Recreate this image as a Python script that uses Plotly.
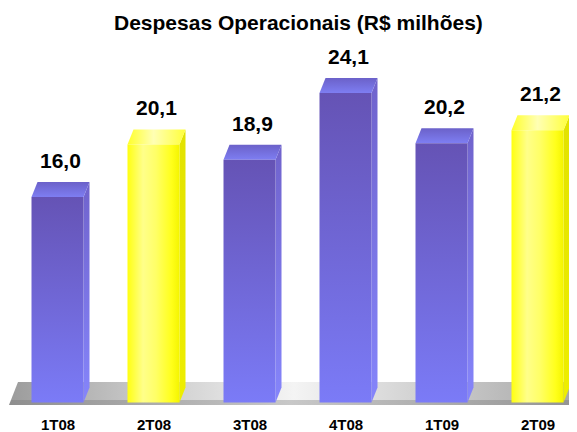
import plotly.graph_objects as go

# ---- data ----
categories = ["1T08", "2T08", "3T08", "4T08", "1T09", "2T09"]
values = [16.0, 20.1, 18.9, 24.1, 20.2, 21.2]
value_labels = ["16,0", "20,1", "18,9", "24,1", "20,2", "21,2"]
bar_styles = ["purple", "yellow", "purple", "purple", "purple", "yellow"]
title_text = "Despesas Operacionais (R$ milhões)"

# ---- geometry ----
# The page body has an 8px default margin, so the figure is drawn 8px smaller
# and all page-pixel targets are shifted by that offset.
OFF = 8
W, H = 577 - OFF, 432 - OFF
X0PX, DXPX = 57.5 - OFF, 96.0      # pixel of category 0, pixels per category
Y0PX, DYPX = 402.5 - OFF, 12.84    # pixel of value 0, pixels per unit
xr = [(0 - X0PX) / DXPX, (W - X0PX) / DXPX]
yr = [(Y0PX - H) / DYPX, Y0PX / DYPX]

bw = 52 / DXPX   # bar width
ox = 6 / DXPX    # depth offset x
oy = 15 / DYPX   # depth offset y

FONT = "Arial, Liberation Sans, sans-serif"

STYLES = {
    "purple": {
        "front": dict(type="vertical", colorscale=[[0, "#7b7bf7"], [1, "#6553b5"]]),
        "side": dict(type="vertical", colorscale=[[0, "#8585fb"], [1, "#7063cc"]]),
        "top": dict(type="vertical", colorscale=[[0, "#7e7ef2"], [1, "#6b61c9"]]),
    },
    "yellow": {
        "front": dict(type="horizontal", colorscale=[[0, "#ffff10"], [0.3, "#ffff8a"],
                                                     [0.55, "#ffff66"], [0.85, "#ffff1a"],
                                                     [1, "#f4f400"]]),
        "side": dict(type="vertical", colorscale=[[0, "#eeee00"], [1, "#e2e200"]]),
        "top": dict(type="horizontal", colorscale=[[0, "#ffff2a"], [0.45, "#ffffb4"],
                                                   [1, "#ffff3a"]]),
    },
}

fig = go.Figure()


def poly(xs, ys, grad):
    fig.add_trace(go.Scatter(
        x=xs + [xs[0]], y=ys + [ys[0]], mode="lines", fill="toself",
        fillgradient=grad, line=dict(width=0), hoverinfo="skip", showlegend=False))


def px_x(p):
    return (p - OFF - X0PX) / DXPX


def px_y(p):
    return (Y0PX - (p - OFF)) / DYPX


# ---- floor ----
fl_left_front = px_x(9)
fl_left_back = px_x(18)
fl_right = xr[1] + 0.2
y_fb = px_y(405)
y_ft = px_y(400)
y_bk = px_y(382)
slope = (fl_left_back - fl_left_front) / (y_bk - y_fb)
poly([fl_left_front + slope * (y_ft - y_fb), fl_right, fl_right + 0.05, fl_left_back],
     [y_ft, y_ft, y_bk, y_bk],
     dict(type="horizontal", colorscale=[[0, "#9c9c9c"], [0.2, "#c4c4c4"], [0.48, "#f4f4f4"],
                                         [0.75, "#c8c8c8"], [1, "#a0a0a0"]]))
poly([fl_left_front, fl_right, fl_right, fl_left_front + slope * (y_ft - y_fb)],
     [y_fb, y_fb, y_ft, y_ft],
     dict(type="horizontal", colorscale=[[0, "#8e8e8e"], [0.48, "#c8c8c8"], [1, "#909090"]]))

# ---- bars ----
for i, (v, st) in enumerate(zip(values, bar_styles)):
    s = STYLES[st]
    l, r = i - bw / 2, i + bw / 2
    poly([r, r + ox, r + ox, r], [0, oy, v + oy, v], s["side"])
    poly([l, r, r + ox, l + ox], [v, v, v + oy, v + oy], s["top"])
    poly([l, r, r, l], [0, 0, v, v], s["front"])

annotations = []
for i, (v, lab) in enumerate(zip(values, value_labels)):
    annotations.append(dict(x=i + ox / 2, y=v + oy, xref="x", yref="y", text=f"<b>{lab}</b>",
                            showarrow=False, yanchor="bottom", yshift=8,
                            font=dict(family=FONT, size=21, color="#000000")))
for i, c in enumerate(categories):
    annotations.append(dict(x=i, y=1 - (424.5 - OFF) / H, xref="x", yref="paper",
                            text=f"<b>{c}</b>", showarrow=False, yanchor="middle",
                            font=dict(family=FONT, size=15, color="#000000")))
annotations.append(dict(x=(298 - OFF) / W, y=1 - (23 - OFF) / H, xref="paper", yref="paper",
                        text=f"<b>{title_text}</b>", showarrow=False, yanchor="middle",
                        font=dict(family=FONT, size=21, color="#000000")))

fig.update_layout(
    width=W, height=H, margin=dict(l=0, r=0, t=0, b=0),
    paper_bgcolor="white", plot_bgcolor="white",
    xaxis=dict(range=xr, visible=False, fixedrange=True),
    yaxis=dict(range=yr, visible=False, fixedrange=True),
    annotations=annotations, showlegend=False,
)

fig.write_html("out.html")
